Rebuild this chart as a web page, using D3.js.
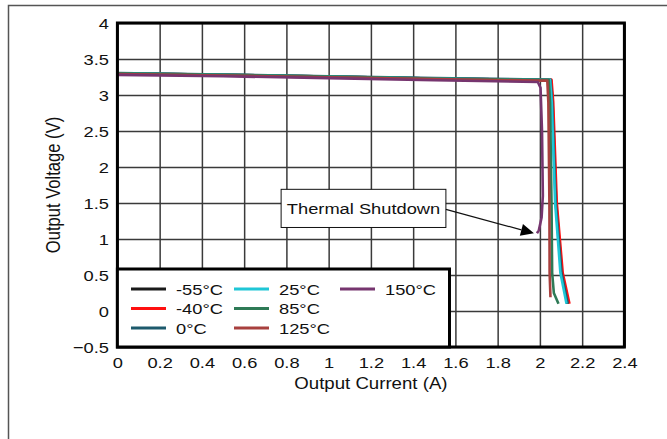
<!DOCTYPE html>
<html><head><meta charset="utf-8">
<script src="https://cdn.jsdelivr.net/npm/d3@7"></script>
<style>body{margin:0;background:#fff}svg{display:block}text{font-family:Arial,"Liberation Sans",sans-serif;fill:#111}</style>
</head><body><svg id="c" width="667" height="439"></svg>
<script>
// ---- data ----
const xTicks = [0,0.2,0.4,0.6,0.8,1,1.2,1.4,1.6,1.8,2,2.2,2.4];
const yTicks = [-0.5,0,0.5,1,1.5,2,2.5,3,3.5,4];
const seriesNames = ["-55°C","-40°C","0°C","25°C","85°C","125°C","150°C"];
const seriesColors = ["#1a1a1a","#ff1010","#1d5a6c","#1fc6d6","#2e7a56","#a8403e","#76356f"];
const sM55 = [[0,3.30],[0.5,3.28],[1.0,3.255],[1.5,3.23],[2.0,3.21],[2.052,3.21],[2.06,2.9],[2.077,1.5],[2.104,0.53],[2.13,0.1]];
const sM40 = [[0,3.30],[0.5,3.28],[1.0,3.255],[1.5,3.23],[2.0,3.21],[2.055,3.21],[2.063,2.9],[2.08,1.5],[2.108,0.53],[2.14,0.1]];
const s0   = [[0,3.305],[0.5,3.285],[1.0,3.26],[1.5,3.235],[2.0,3.215],[2.05,3.21],[2.058,2.9],[2.075,1.5],[2.102,0.53],[2.132,0.1]];
const s25  = [[0,3.30],[0.5,3.28],[1.0,3.255],[1.5,3.23],[2.0,3.21],[2.048,3.21],[2.056,2.9],[2.072,1.5],[2.097,0.53],[2.126,0.1]];
const s85  = [[0,3.30],[0.5,3.28],[1.0,3.255],[1.5,3.23],[2.0,3.21],[2.042,3.21],[2.048,2.9],[2.055,1.5],[2.058,0.53],[2.066,0.25],[2.088,0.1]];
const s125 = [[0,3.29],[0.5,3.27],[1.0,3.245],[1.5,3.22],[2.0,3.2],[2.035,3.2],[2.04,2.9],[2.045,1.5],[2.046,0.53],[2.05,0.19]];
const s150 = [[0,3.28],[0.5,3.26],[1.0,3.235],[1.5,3.205],[1.99,3.18],[2.003,3.1],[2.01,2.5],[2.014,1.6],[2.008,1.3],[1.995,1.12],[1.986,1.08]];
const allSeries = [sM55,sM40,s0,s25,s85,s125,s150];
const annotationText = "Thermal Shutdown";
const annotationTarget = [1.986,1.08];
const annotationBox = [0.775,1.69,1.555,1.16]; // x0,yTop,x1,yBottom in data units

// ---- layout ----
const svg = d3.select("#c");
const L=117.4, R=624.4, T=23, B=347;
const x = d3.scaleLinear().domain([0,2.4]).range([L,R]);
const y = d3.scaleLinear().domain([-0.5,4]).range([B,T]);
const SX = 1.18;

// outer frame
svg.append("rect").attr("x",8.5).attr("y",5.5).attr("width",700).attr("height",500)
  .attr("fill","none").attr("stroke","#555").attr("stroke-width",1.5);

// grid
svg.append("g").attr("transform",`translate(0,${B})`)
  .call(d3.axisBottom(x).tickValues(xTicks).tickSize(-(B-T)).tickFormat(""))
  .call(g=>{g.select(".domain").remove();g.selectAll("line").attr("stroke","#3a3a3a").attr("stroke-width",1.5);});
svg.append("g").attr("transform",`translate(${L},0)`)
  .call(d3.axisLeft(y).tickValues(yTicks).tickSize(-(R-L)).tickFormat(""))
  .call(g=>{g.select(".domain").remove();g.selectAll("line").attr("stroke","#3a3a3a").attr("stroke-width",1.5);});

// tick labels
const xa = svg.append("g").attr("transform",`translate(0,${B})`)
  .call(d3.axisBottom(x).tickValues(xTicks).tickSize(0).tickPadding(0).tickFormat(d3.format("~g")));
xa.select(".domain").remove();
xa.selectAll("text").attr("font-size","15.5px").attr("y",21).attr("dy",0).attr("transform",`scale(${SX},1)`).style("fill","#111");
const ya = svg.append("g").attr("transform",`translate(${L},0)`)
  .call(d3.axisLeft(y).tickValues(yTicks).tickSize(0).tickPadding(0).tickFormat(d3.format("~g")));
ya.select(".domain").remove();
ya.selectAll("text").attr("font-size","15.5px").attr("x",-7.2).attr("dy","0.36em").attr("transform",`scale(${SX},1)`).style("fill","#111");

// axis titles
svg.append("text").attr("transform",`translate(${(L+R)/2},${389}) scale(${SX},1)`)
  .attr("text-anchor","middle").attr("font-size","15.8px").text("Output Current (A)");
svg.append("text").attr("transform",`translate(${60},${(T+B)/2}) rotate(-90) scale(1,${SX})`)
  .attr("text-anchor","middle").attr("font-size","16.6px").text("Output Voltage (V)");

// curves
const line = d3.line().x(d=>x(d[0])).y(d=>y(d[1]));
svg.append("g").selectAll("path").data(allSeries).join("path")
  .attr("d",line).attr("fill","none").attr("stroke",(d,i)=>seriesColors[i])
  .attr("stroke-width",2.6).attr("stroke-linejoin","round");

// plot border
svg.append("rect").attr("x",L).attr("y",T).attr("width",R-L).attr("height",B-T)
  .attr("fill","none").attr("stroke","#000").attr("stroke-width",3);

// annotation
const bx0=x(annotationBox[0]), bx1=x(annotationBox[2]), by0=y(annotationBox[1]), by1=y(annotationBox[3]);
svg.append("rect").attr("x",bx0).attr("y",by0).attr("width",bx1-bx0).attr("height",by1-by0)
  .attr("fill","#fff").attr("stroke","#111").attr("stroke-width",1);
svg.append("text").attr("transform",`translate(${(bx0+bx1)/2},${(by0+by1)/2+5.5}) scale(${SX},1)`)
  .attr("text-anchor","middle").attr("font-size","15.5px").text(annotationText);
const tx=x(annotationTarget[0])-3, ty=y(annotationTarget[1]);
const sx=bx1, sy=(by0+by1)/2+1;
const ang=Math.atan2(ty-sy,tx-sx);
const hl=13, hw=6;
const bxp=tx-hl*Math.cos(ang), byp=ty-hl*Math.sin(ang);
svg.append("line").attr("x1",sx).attr("y1",sy).attr("x2",bxp).attr("y2",byp).attr("stroke","#111").attr("stroke-width",1.2);
svg.append("path").attr("d",`M${tx},${ty}L${bxp-hw*Math.sin(ang)},${byp+hw*Math.cos(ang)}L${bxp+hw*Math.sin(ang)},${byp-hw*Math.cos(ang)}Z`).attr("fill","#000");

// legend
const lg = svg.append("g");
const lgX0=L, lgY0=269, lgX1=449.5, lgY1=B;
lg.append("rect").attr("x",lgX0).attr("y",lgY0).attr("width",lgX1-lgX0).attr("height",lgY1-lgY0)
  .attr("fill","#fff").attr("stroke","#000").attr("stroke-width",3);
const colX=[131,234,340], rowY=[289,308.5,328];
seriesNames.forEach((n,i)=>{
  const c=Math.floor(i/3), r=i%3;
  const gx=colX[c], gy=rowY[r];
  lg.append("line").attr("x1",gx).attr("x2",gx+35).attr("y1",gy).attr("y2",gy)
    .attr("stroke",seriesColors[i]).attr("stroke-width",3);
  lg.append("text").attr("transform",`translate(${gx+45},${gy+5.6}) scale(${SX},1)`)
    .attr("font-size","15.5px").text(n);
});
</script></body></html>
